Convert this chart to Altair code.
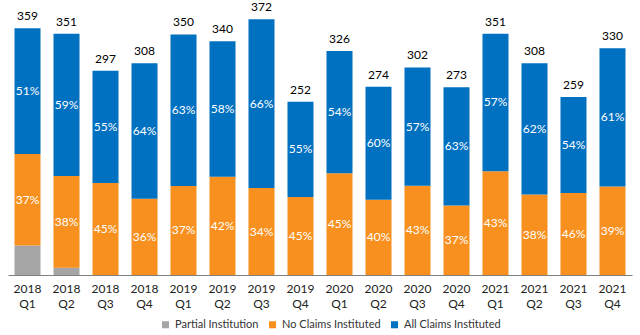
import altair as alt
import pandas as pd

quarters = ["2018 Q1", "2018 Q2", "2018 Q3", "2018 Q4",
            "2019 Q1", "2019 Q2", "2019 Q3", "2019 Q4",
            "2020 Q1", "2020 Q2", "2020 Q3", "2020 Q4",
            "2021 Q1", "2021 Q2", "2021 Q3", "2021 Q4"]
totals = [359, 351, 297, 308, 350, 340, 372, 252, 326, 274, 302, 273, 351, 308, 259, 330]
pct_all = [51, 59, 55, 64, 63, 58, 66, 55, 54, 60, 57, 63, 57, 62, 54, 61]
pct_no = [37, 38, 45, 36, 37, 42, 34, 45, 45, 40, 43, 37, 43, 38, 46, 39]
pct_partial = [12, 3, 0, 0, 0, 0, 0, 0, 0, 0, 0, 0, 0, 0, 0, 0]

series = ["Partial Institution", "No Claims Instituted", "All Claims Instituted"]
colors = ["#A5A5A5", "#F7901E", "#0070C0"]

rows = []
for q, t, pa, pn, pp in zip(quarters, totals, pct_all, pct_no, pct_partial):
    s = pa + pn + pp
    start = 0.0
    for name, p in zip(series, [pp, pn, pa]):
        v = t * p / s
        show = name != "Partial Institution"
        rows.append({"q": q, "series": name, "pct": p, "y0": start, "y1": start + v,
                     "mid": start + v / 2, "label": f"{p}%" if show else ""})
        start += v
seg = pd.DataFrame(rows)
tot = pd.DataFrame({"q": quarters, "total": totals})

font = "Lato"
x = alt.X("q:N", sort=quarters, title=None,
          scale=alt.Scale(paddingInner=0.333, paddingOuter=0.1667),
          axis=alt.Axis(labelAngle=0, ticks=False, domainColor="#808080", domainWidth=1,
                        labelExpr="split(datum.label, ' ')", labelFontSize=12,
                        labelColor="#222222", labelPadding=8, labelLineHeight=15,
                        labelFont=font))
yscale = alt.Scale(domain=[0, 400])

bars = alt.Chart(seg).mark_bar().encode(
    x=x,
    y=alt.Y("y0:Q", scale=yscale, axis=None),
    y2="y1:Q",
    color=alt.Color("series:N", scale=alt.Scale(domain=series, range=colors),
                    legend=alt.Legend(title=None, orient="none", direction="horizontal",
                                      legendX=152, legendY=319, symbolType="square",
                                      symbolSize=50, labelFontSize=11, labelFont=font,
                                      labelColor="#333333", columnPadding=8,
                                      labelOffset=4, symbolStrokeWidth=0)),
)

pct_text = alt.Chart(seg).mark_text(color="white", fontSize=12, font=font).encode(
    x=alt.X("q:N", sort=quarters),
    y=alt.Y("mid:Q", scale=yscale),
    text="label:N",
)

tot_text = alt.Chart(tot).mark_text(color="black", fontSize=12, font=font,
                                    baseline="bottom", dy=-5).encode(
    x=alt.X("q:N", sort=quarters),
    y=alt.Y("total:Q", scale=yscale),
    text="total:Q",
)

chart = (bars + pct_text + tot_text).properties(
    width=624, height=275,
    autosize=alt.AutoSizeParams(type="none"),
    padding={"left": 8, "right": 8, "top": 0, "bottom": 60},
).configure_view(stroke=None)

chart.save("out.html", embed_options={"renderer": "svg", "actions": False})
